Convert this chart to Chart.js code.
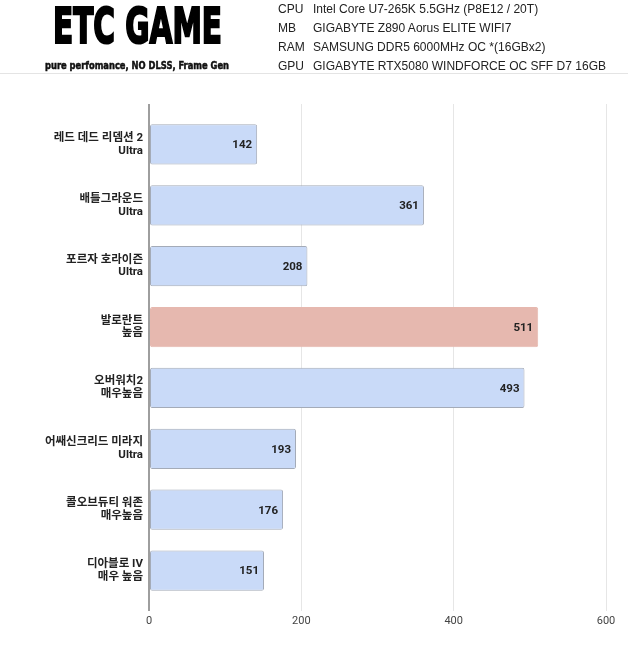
<!DOCTYPE html>
<html>
<head>
<meta charset="utf-8">
<script src="https://cdn.jsdelivr.net/npm/chart.js@4"></script>
<style>
  body { margin: 0; background: #fff; }
  #wrap { position: relative; width: 628px; height: 649px; overflow: hidden; }
  #chart { position: absolute; left: 0; top: 0; }
  .hd { position: absolute; white-space: nowrap; z-index: 2; }
  #title { left: 53px; top: -3px; font: bold 50px "Liberation Sans Narrow", "DejaVu Sans Condensed", sans-serif;
           color: #000; -webkit-text-stroke: 2.2px #000; transform-origin: 0 0; }
  #sub { left: 45px; top: 59px; font: bold 11px "Liberation Sans Narrow", "DejaVu Sans Condensed", sans-serif;
         color: #111; -webkit-text-stroke: 0.5px #111; transform-origin: 0 0; }
  .spec { font: 13px "Liberation Sans", Arial, sans-serif; color: #222; transform-origin: 0 0; }
  #sep { position: absolute; left: 0; top: 73px; width: 628px; height: 1px; background: #e4e4e4; z-index: 2; }
</style>
</head>
<body>
<div id="wrap">
  <canvas id="chart" width="628" height="649"></canvas>
  <div id="title" class="hd">ETC GAME</div>
  <div id="sub" class="hd">pure perfomance, NO DLSS, Frame Gen</div>
  <div id="specs"></div>
  <div id="sep"></div>
</div>
<script>
// header specs
const specKeys = ['CPU', 'MB', 'RAM', 'GPU'];
const specVals = [
  'Intel Core U7-265K 5.5GHz (P8E12 / 20T)',
  'GIGABYTE Z890 Aorus ELITE WIFI7',
  'SAMSUNG DDR5 6000MHz OC *(16GBx2)',
  'GIGABYTE RTX5080 WINDFORCE OC SFF D7 16GB'
];

// chart data
const games = ['레드 데드 리뎀션 2', '배틀그라운드', '포르자 호라이즌', '발로란트', '오버워치2', '어쌔신크리드 미라지', '콜오브듀티 워존', '디아블로 IV'];
const presets = ['Ultra', 'Ultra', 'Ultra', '높음', '매우높음', 'Ultra', '매우높음', '매우 높음'];
const fps = [142, 361, 208, 511, 493, 193, 176, 151];
const highlight = [false, false, false, true, false, false, false, false];
const xTicks = [0, 200, 400, 600];

// build header text
const specBox = document.getElementById('specs');
const rowTops = [1, 20, 39, 58];
const valEls = [];
specKeys.forEach((k, i) => {
    const a = document.createElement('div');
    a.className = 'hd spec';
    a.style.left = '278px';
    a.style.top = rowTops[i] + 'px';
    a.textContent = k;
    const b = document.createElement('div');
    b.className = 'hd spec';
    b.style.left = '313px';
    b.style.top = rowTops[i] + 'px';
    b.textContent = specVals[i];
    specBox.appendChild(a);
    specBox.appendChild(b);
    valEls.push(a, b);
});
// the GPU line runs from x=313 to about x=606 in the original
const gpuW = valEls[7].getBoundingClientRect().width;
const specScale = 293 / gpuW;
valEls.forEach(el => { el.style.transform = 'scaleX(' + specScale + ')'; });

function fitWidth(id, w) {
    const el = document.getElementById(id);
    const cur = el.getBoundingClientRect().width;
    el.style.transform = 'scaleX(' + (w / cur) + ')';
}
fitWidth('title', 169);
fitWidth('sub', 184);

const gridColor = c => (c.tick && c.tick.value === 0) ? '#9e9e9e' : '#e6e6e6';
const gridWidth = c => (c.tick && c.tick.value === 0) ? 2 : 1;

const valueLabels = {
    id: 'valueLabels',
    afterDatasetsDraw(chart) {
        const ctx = chart.ctx;
        const meta = chart.getDatasetMeta(0);
        ctx.save();
        ctx.font = 'bold 11.5px Roboto, "Noto Sans CJK KR", sans-serif';
        ctx.fillStyle = '#222';
        ctx.textAlign = 'right';
        ctx.textBaseline = 'middle';
        meta.data.forEach((bar, i) => {
            ctx.fillText(String(fps[i]), bar.x - 5, bar.y + 1);
        });
        ctx.restore();
    }
};

new Chart(document.getElementById('chart'), {
    type: 'bar',
    data: {
        labels: games.map((g, i) => [g, presets[i]]),
        datasets: [{
            data: fps,
            backgroundColor: highlight.map(h => h ? '#e6b8af' : '#c9daf8'),
            borderColor: highlight.map(h => h ? '#e6b8af' : '#a4abb8'),
            borderWidth: 1,
            borderRadius: 2,
            borderSkipped: false,
            categoryPercentage: 1,
            barPercentage: 0.66
        }]
    },
    options: {
        indexAxis: 'y',
        responsive: false,
        animation: false,
        layout: { padding: { left: 0, right: 22, top: 104, bottom: 0 } },
        plugins: { legend: { display: false }, tooltip: { enabled: false } },
        scales: {
            x: {
                position: 'bottom',
                min: 0, max: 600,
                afterBuildTicks: s => { s.ticks = xTicks.map(v => ({ value: v })); },
                afterFit: s => { s.height = 48; },
                border: { display: false },
                grid: { color: gridColor, lineWidth: gridWidth, tickLength: 10 },
                ticks: { padding: 4, color: '#444', font: { family: 'Roboto, sans-serif', size: 11 } }
            },
            xTop: {
                position: 'top',
                axis: 'x',
                min: 0, max: 600,
                afterBuildTicks: s => { s.ticks = xTicks.map(v => ({ value: v })); },
                afterFit: s => { s.height = 10; },
                border: { display: false },
                grid: { color: gridColor, lineWidth: gridWidth, tickLength: 10, drawOnChartArea: false },
                ticks: { display: false }
            },
            y: {
                afterFit: s => { s.width = 149; },
                border: { display: false },
                grid: { display: false, drawTicks: false },
                ticks: {
                    padding: 6,
                    color: '#222',
                    font: { family: 'Roboto, "Noto Sans CJK KR", sans-serif', size: 11.5, weight: 'bold', lineHeight: 1.1 }
                }
            }
        }
    },
    plugins: [valueLabels]
});
</script>
</body>
</html>
